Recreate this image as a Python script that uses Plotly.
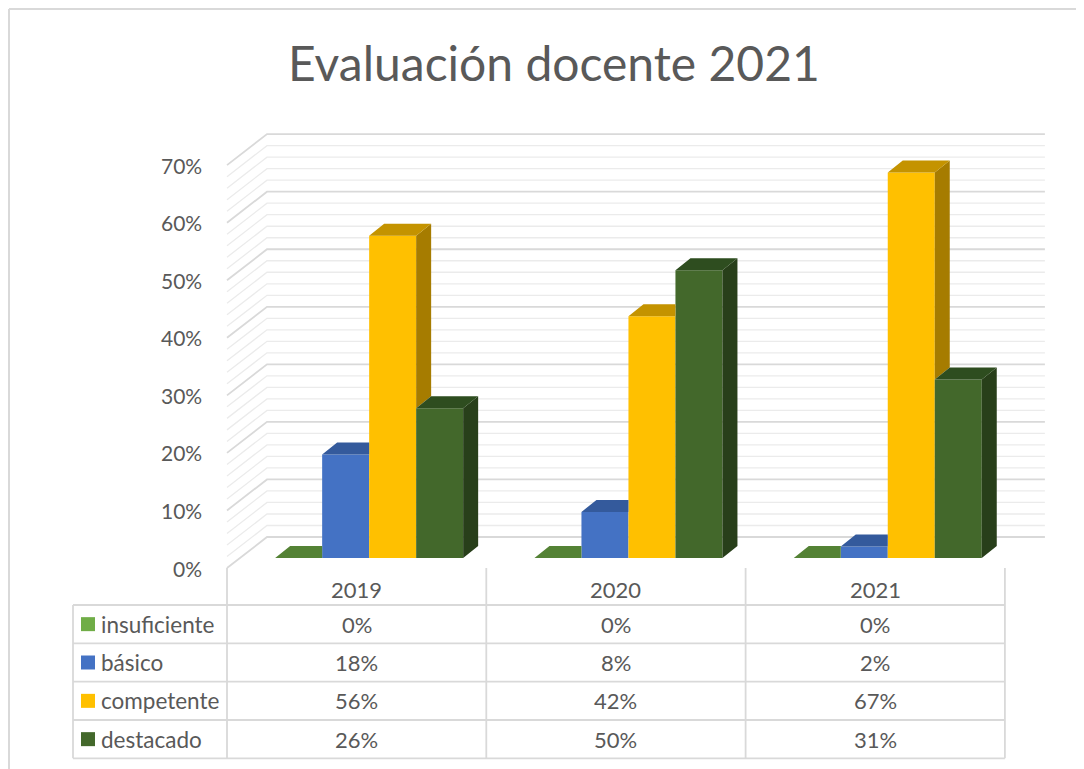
import plotly.graph_objects as go

# ---------------- data ----------------
years = ["2019", "2020", "2021"]
series_names = ["insuficiente", "básico", "competente", "destacado"]
insuficiente = [0, 0, 0]
basico = [18, 8, 2]
competente = [56, 42, 67]
destacado = [26, 50, 31]
y_tick_values = [0, 10, 20, 30, 40, 50, 60, 70]
y_tick_labels = ["0%", "10%", "20%", "30%", "40%", "50%", "60%", "70%"]
minor_step = 2
title_text = "Evaluación docente 2021"

series_values = [insuficiente, basico, competente, destacado]

# ---------------- styles ----------------
front_colors = ["#70AD47", "#4472C4", "#FFC000", "#43682B"]
top_colors = ["#548235", "#345A9C", "#C49300", "#2E4D1F"]
side_colors = ["#4A7530", "#2C4C85", "#A67C00", "#283F1A"]
text_color = "#595959"
grid_major = "#D9D9D9"
grid_minor = "#EBEBEB"
table_line = "#D9D9D9"
FONT = "Lato"

# the page body has an 8px margin: the figure starts at (8, 8) of the window
OFF = 8
W, H = 1084 - OFF, 769 - OFF
# geometry in window pixels (axis maps 1:1 to pixels)
PX0 = 239.5     # left edge of first category in the bar plane
CW = 259.3      # pixels per category
Y0 = 558.0      # pixel of 0% in the bar plane
PPU = 5.755     # pixels per percent


def xd(px):
    return (px - PX0) / CW


def yd(py):
    return (Y0 - py) / PPU


def xpaper(px):
    return (px - OFF) / W


def ypaper(py):
    return 1 - (py - OFF) / H


FX, FY = xd(227), yd(568)      # front plane offset
BX, BY = xd(267), yd(537)      # back plane offset
BW = 47 / CW                   # bar width (category units)
DDX, DDY = 15 / CW, 12 / PPU   # bar depth

ncat = len(years)
nser = len(series_values)

fig = go.Figure()

# ---------------- bars (front faces) ----------------
bar_x = []
for j in range(nser):
    xs = [i + 0.5 + (j - (nser - 1) / 2) * BW for i in range(ncat)]
    bar_x.append(xs)
    fig.add_trace(go.Bar(
        x=xs, y=series_values[j], width=BW, name=series_names[j],
        marker=dict(color=front_colors[j], line=dict(width=0)),
        hoverinfo="skip", showlegend=False))

# ---------------- 3D faces (tops and sides), clipped by neighbour ----------------
for j in range(nser):
    tx, ty, sx, sy = [], [], [], []
    for i in range(ncat):
        v = series_values[j][i]
        x0 = bar_x[j][i] - BW / 2
        x1 = bar_x[j][i] + BW / 2
        n = series_values[j + 1][i] if j + 1 < nser else None
        # top face
        if n is not None and n > v:
            m = min(n, v + DDY)
            s = max(0.0, min(1.0, (v + DDY - n) / DDY))
            px = [x0, x1, x1, x1 + DDX * s, x0 + DDX, x0]
            py = [v, v, m, v + DDY, v + DDY, v]
        else:
            px = [x0, x1, x1 + DDX, x0 + DDX, x0]
            py = [v, v, v + DDY, v + DDY, v]
        tx += px + [None]
        ty += py + [None]
        # side face
        if n is None:
            px = [x1, x1, x1 + DDX, x1 + DDX, x1]
            py = [0, v, v + DDY, DDY, 0]
        elif v > n:
            px = [x1, x1, x1 + DDX, x1 + DDX, x1]
            py = [n, v, v + DDY, n + DDY, n]
        else:
            px, py = [], []
        if px:
            sx += px + [None]
            sy += py + [None]
    if sx:
        fig.add_trace(go.Scatter(
            x=sx, y=sy, mode="lines", fill="toself", fillcolor=side_colors[j],
            line=dict(width=0, color=side_colors[j]), hoverinfo="skip",
            showlegend=False))
    fig.add_trace(go.Scatter(
        x=tx, y=ty, mode="lines", fill="toself", fillcolor=top_colors[j],
        line=dict(width=0, color=top_colors[j]), hoverinfo="skip",
        showlegend=False))

shapes = []
annotations = []

# ---------------- walls gridlines ----------------
top_val = y_tick_values[-1]
k = 0
v = 0
while v <= top_val + 1e-9:
    is_major = any(abs(v - t) < 1e-9 for t in y_tick_values)
    path = "M {} {} L {} {} L {} {}".format(
        FX, v + FY, BX, v + BY, ncat + BX, v + BY)
    shapes.append(dict(
        type="path", path=path, xref="x", yref="y", layer="below",
        line=dict(color=grid_major if is_major else grid_minor,
                  width=1.8 if is_major else 1.3)))
    k += 1
    v = k * minor_step

# ---------------- y tick labels ----------------
for val, lab in zip(y_tick_values, y_tick_labels):
    annotations.append(dict(
        x=xd(204), y=val + FY, xref="x", yref="y", text=lab,
        showarrow=False, xanchor="right", yanchor="middle",
        font=dict(family=FONT, size=21, color=text_color)))

# ---------------- data table ----------------
row_lines = [605, 643.3, 681.7, 720, 758.3]
header_top = 568
label_left = 73
col_x = [c + FX for c in range(ncat + 1)]


def add_line(x0, y0, x1, y1):
    shapes.append(dict(type="line", x0=x0, y0=y0, x1=x1, y1=y1,
                       xref="x", yref="y", layer="above",
                       line=dict(color=table_line, width=1.8)))


# header vertical lines
for cx in col_x:
    add_line(cx, yd(header_top), cx, yd(row_lines[0]))
# body horizontal lines
for ry in row_lines:
    add_line(xd(label_left), yd(ry), col_x[-1], yd(ry))
# body vertical lines
for cx in [xd(label_left)] + col_x:
    add_line(cx, yd(row_lines[0]), cx, yd(row_lines[-1]))

# year headers
for i, yr in enumerate(years):
    annotations.append(dict(
        x=i + 0.5 + FX, y=yd(589), xref="x", yref="y", text=yr,
        showarrow=False, xanchor="center", yanchor="middle",
        font=dict(family=FONT, size=22, color=text_color)))

for j in range(nser):
    cy = (row_lines[j] + row_lines[j + 1]) / 2
    # legend key
    shapes.append(dict(type="rect", x0=xd(81), x1=xd(95),
                       y0=yd(cy - 7), y1=yd(cy + 7), xref="x", yref="y",
                       fillcolor=front_colors[j], line=dict(width=0)))
    annotations.append(dict(
        x=xd(99), y=yd(cy), xref="x", yref="y", text=series_names[j],
        showarrow=False, xanchor="left", yanchor="middle",
        font=dict(family=FONT, size=22.5, color=text_color)))
    for i in range(ncat):
        annotations.append(dict(
            x=i + 0.5 + FX, y=yd(cy), xref="x", yref="y",
            text="{}%".format(series_values[j][i]),
            showarrow=False, xanchor="center", yanchor="middle",
            font=dict(family=FONT, size=22, color=text_color)))

# chart outer border (left and top visible)
shapes.append(dict(type="line", xref="paper", yref="paper",
                   x0=xpaper(9), y0=ypaper(9), x1=xpaper(9), y1=0,
                   line=dict(color=table_line, width=2)))
shapes.append(dict(type="line", xref="paper", yref="paper",
                   x0=xpaper(9), y0=ypaper(9), x1=1, y1=ypaper(9),
                   line=dict(color=table_line, width=2)))

# title
annotations.append(dict(
    x=xpaper(554), y=ypaper(63), xref="paper", yref="paper", text=title_text,
    showarrow=False, xanchor="center", yanchor="middle",
    font=dict(family=FONT, size=48, color=text_color)))

fig.update_layout(
    width=W, height=H, autosize=False,
    margin=dict(l=0, r=0, t=0, b=0, pad=0),
    paper_bgcolor="white", plot_bgcolor="white",
    barmode="overlay", showlegend=False,
    xaxis=dict(range=[xd(OFF), xd(OFF + W)], visible=False, fixedrange=True),
    yaxis=dict(range=[yd(OFF + H), yd(OFF)], visible=False, fixedrange=True),
    shapes=shapes, annotations=annotations,
)

fig.write_html("out.html")
